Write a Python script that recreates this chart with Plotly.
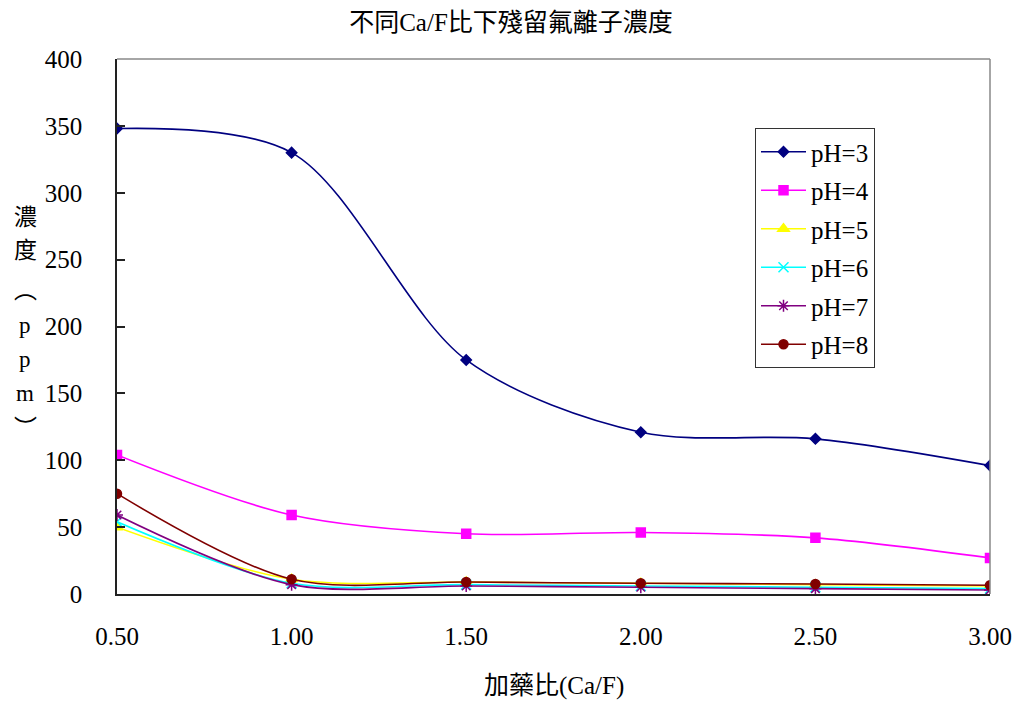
import plotly.graph_objects as go

x_vals = [0.5, 1.0, 1.5, 2.0, 2.5, 3.0]
ph3 = [348, 330, 175, 121, 116, 96]
ph4 = [104, 59, 45, 46, 42, 27]
ph5 = [50, 11, 9, 8, 7, 6]
ph6 = [54, 8, 7, 6, 5, 4]
ph7 = [59, 7, 6, 5, 4, 3]
ph8 = [75, 11, 9, 8, 7.5, 6.5]
series_names = ["pH=3", "pH=4", "pH=5", "pH=6", "pH=7", "pH=8"]
x_ticks = [0.5, 1.0, 1.5, 2.0, 2.5, 3.0]
x_tick_labels = ["0.50", "1.00", "1.50", "2.00", "2.50", "3.00"]
y_ticks = [0, 50, 100, 150, 200, 250, 300, 350, 400]

colors = ["#000080", "#FF00FF", "#FFFF00", "#00FFFF", "#800080", "#800000"]
symbols = ["diamond", "square", "triangle-up", "x-thin-open", "asterisk-open", "circle"]
msizes = [8, 9, 10, 10, 10, 9]

W, H = 1020, 701
L, R, T, B = 117, 30, 59, 107
PW, PH = W - L - R, H - T - B

def px(xp):
    return (xp - L) / PW

def py(yp):
    return 1 - (yp - T) / PH

fig = go.Figure()
for i, (name, ys, c, s, ms) in enumerate(zip(series_names, [ph3, ph4, ph5, ph6, ph7, ph8], colors, symbols, msizes)):
    fig.add_trace(go.Scatter(
        x=x_vals, y=ys, name=name, mode="lines+markers", legendgroup=f"g{i}",
        line=dict(color=c, width=1.6, shape="spline", smoothing=0.9),
        marker=dict(symbol=s, size=ms, color=c, line=dict(color=c, width=1.5)),
    ))

font_serif = "Liberation Serif, Times New Roman, Noto Sans CJK TC, serif"

fig.update_layout(
    width=W, height=H,
    margin=dict(l=L, r=R, t=T, b=B, autoexpand=False),
    paper_bgcolor="white", plot_bgcolor="white",
    font=dict(family=font_serif, size=25, color="black"),
    title=dict(text="不同Ca/F比下殘留氟離子濃度", xref="container", x=511 / W,
               xanchor="center", yref="container", y=1 - 22 / H, yanchor="middle",
               font=dict(family=font_serif, size=25)),
    showlegend=True,
    legend=dict(x=px(755), y=py(128), xanchor="left", yanchor="top",
                bordercolor="#333333", borderwidth=1, bgcolor="white",
                font=dict(family=font_serif, size=25),
                tracegroupgap=3, itemwidth=45),
    xaxis=dict(range=[0.5, 3.0], tickvals=x_ticks, ticktext=x_tick_labels,
               showgrid=False, zeroline=False, showline=True, linecolor="#222222",
               linewidth=1.5, ticks="", ticklabelstandoff=19, automargin=False,
               tickfont=dict(size=25)),
    yaxis=dict(range=[0, 400], tickvals=y_ticks, showgrid=False, zeroline=False,
               showline=True, linecolor="#222222", linewidth=1.5,
               ticks="inside", ticklen=8, tickcolor="#222222", tickwidth=1.5,
               ticklabelstandoff=28, automargin=False, tickfont=dict(size=25)),
)

# gray top/right frame
fig.add_shape(type="line", xref="paper", yref="paper", x0=0, x1=1, y0=1, y1=1,
              line=dict(color="#888888", width=1.5))
fig.add_shape(type="line", xref="paper", yref="paper", x0=1, x1=1, y0=0, y1=1,
              line=dict(color="#888888", width=1.5))

# x-axis title
fig.add_annotation(text="加藥比(Ca/F)", xref="paper", yref="paper",
                   x=px(554), y=py(686), xanchor="center", yanchor="middle",
                   showarrow=False, font=dict(size=25, family=font_serif))

# vertical y-axis title, one character per line
ytitle_chars = ["濃", "度", "︵", "p", "p", "m", "︶"]
ytitle_py = [217, 251, 290, 325, 359, 393, 428]
for ch, yy in zip(ytitle_chars, ytitle_py):
    fig.add_annotation(text=ch, xref="paper", yref="paper",
                       x=px(25), y=py(yy),
                       xanchor="center", yanchor="middle", showarrow=False,
                       font=dict(size=23, family=font_serif))

fig.write_html("out.html")
